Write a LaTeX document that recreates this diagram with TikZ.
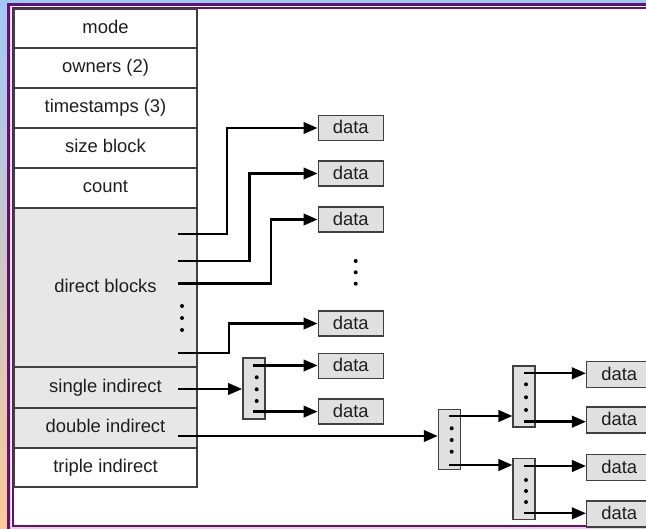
\documentclass[tikz,border=0pt]{standalone}
\usepackage{fontspec}
\setmainfont{Liberation Sans}
\usetikzlibrary{arrows.meta}
\definecolor{bgtop}{HTML}{A2C8F6}
\definecolor{bgbot}{HTML}{F9C999}
\definecolor{framec}{HTML}{6A0F72}
\definecolor{gapc}{HTML}{E4CFE6}
\definecolor{cellgray}{HTML}{E7E7E7}
\definecolor{boxgray}{HTML}{E0E0E0}
\definecolor{edgec}{HTML}{404040}
\definecolor{txt}{HTML}{1E1E1E}
\begin{document}
\begin{tikzpicture}[x=1pt,y=-1pt,
  font=\fontsize{18.4}{22}\selectfont,
  rowcell/.style={draw=edgec, line width=1.5pt, minimum width=183pt, inner sep=0pt,
    text=txt, text height=12pt, text depth=2pt},
  databox/.style={draw=edgec, fill=boxgray, line width=1.5pt, minimum width=65pt,
    minimum height=25pt, inner sep=0pt, text=txt, text height=12pt, text depth=0pt},
  idxbox/.style={draw=edgec, fill=boxgray, line width=1.5pt, minimum width=22pt,
    minimum height=61pt, inner sep=0pt},
  conn/.style={line width=2.4pt, -{Triangle[length=14pt,width=11.5pt]}},
  dotmark/.style={fill=black}]
\useasboundingbox (0,0) rectangle (646,529);
\clip (0,0) rectangle (646,529);
% background and frame
\shade[top color=bgtop, bottom color=bgbot] (0,0) rectangle (646,529);
\fill[framec] (7,2.7) rectangle (700,560);
\fill[gapc] (10,5.7) rectangle (700,560);
\fill[white] (11,6.5) rectangle (700,526.5);
\draw[framec, line width=1.5pt] (13.1,8) rectangle (700,525.8);

% inode table
\node[rowcell, fill=white, minimum height=39pt] (mode) at (105.5,28.5) {mode};
\node[rowcell, fill=white, minimum height=40pt] (owners) at (105.5,68) {owners (2)};
\node[rowcell, fill=white, minimum height=40pt] (times) at (105.5,108) {timestamps (3)};
\node[rowcell, fill=white, minimum height=40pt] (size) at (105.5,148) {size block};
\node[rowcell, fill=white, minimum height=40pt] (count) at (105.5,188) {count};
\node[rowcell, fill=cellgray, minimum height=159pt] (direct) at (105.5,287.5) {direct blocks};
\node[rowcell, fill=cellgray, minimum height=41pt] (single) at (105.5,387.5) {single indirect};
\node[rowcell, fill=cellgray, minimum height=40pt] (double) at (105.5,428) {double indirect};
\node[rowcell, fill=white, minimum height=39pt] (triple) at (105.5,467.5) {triple indirect};

% dots in direct blocks
\foreach \yy in {306,318,330} \fill[dotmark] (182,\yy) circle (2pt);

% data blocks, first column
\node[databox] (d1) at (350.8,128) {data};
\node[databox] (d2) at (350.8,173.5) {data};
\node[databox] (d3) at (350.8,219.5) {data};
\node[databox] (d4) at (350.8,323.5) {data};
\node[databox] (d5) at (350.8,366) {data};
\node[databox] (d6) at (350.8,411.5) {data};
\foreach \yy in {261,272.3,283.7} \fill[dotmark] (355.7,\yy) circle (2pt);

% index blocks
\node[idxbox] (s) at (253.85,388.3) {};
\node[idxbox, minimum height=60pt] (L1) at (449.5,439.3) {};
\node[idxbox] (L2a) at (524.2,396.7) {};
\node[idxbox] (L2b) at (524.2,489.2) {};
\foreach \yy in {377.3,389.3,401} \fill[dotmark] (256.7,\yy) circle (2pt);
\foreach \yy in {428.3,440,451.7} \fill[dotmark] (451.7,\yy) circle (2pt);
\foreach \yy in {384.3,397.3,410} \fill[dotmark] (526,\yy) circle (2pt);
\foreach \yy in {480,491,502} \fill[dotmark] (526,\yy) circle (2pt);

% data blocks, right column
\node[databox, minimum height=26pt] (r1) at (619.2,374.5) {data};
\node[databox, minimum height=26pt] (r2) at (619.2,420) {data};
\node[databox, minimum height=26pt] (r3) at (619.2,467.5) {data};
\node[databox, minimum height=26pt] (r4) at (619.2,514) {data};

% connector start points
\coordinate (a1) at (177.5,234);
\coordinate (a2) at (177.5,261);
\coordinate (a3) at (177.5,283.7);
\coordinate (a4) at (177.5,353.3);
\coordinate (si) at (178,389);
\coordinate (di) at (178,436);
\coordinate (s1) at (253.3,365.5);
\coordinate (s2) at (253.3,411.6);
\coordinate (m1) at (449.3,416);
\coordinate (m2) at (449.3,465);
\coordinate (p1) at (524,373.3);
\coordinate (p2) at (524,421.7);
\coordinate (q1) at (524,466);
\coordinate (q2) at (524,513.3);

% connectors
\draw[conn] (a1) -- ++(49.5,0) |- (d1.west);
\draw[conn] (a2) -- ++(71.8,0) |- (d2.west);
\draw[conn] (a3) -- ++(93.5,0) |- (d3.west);
\draw[conn] (a4) -- ++(51.5,0) |- (d4.west);
\draw[conn] (si) -- (si -| s.west);
\draw[conn] (s1) -- (s1 -| d5.west);
\draw[conn] (s2) -- (s2 -| d6.west);
\draw[conn] (di) -- (di -| L1.west);
\draw[conn] (m1) -- (m1 -| L2a.west);
\draw[conn] (m2) -- (m2 -| L2b.west);
\draw[conn] (p1) -- (p1 -| r1.west);
\draw[conn] (p2) -- (p2 -| r2.west);
\draw[conn] (q1) -- (q1 -| r3.west);
\draw[conn] (q2) -- (q2 -| r4.west);
\end{tikzpicture}
\end{document}
